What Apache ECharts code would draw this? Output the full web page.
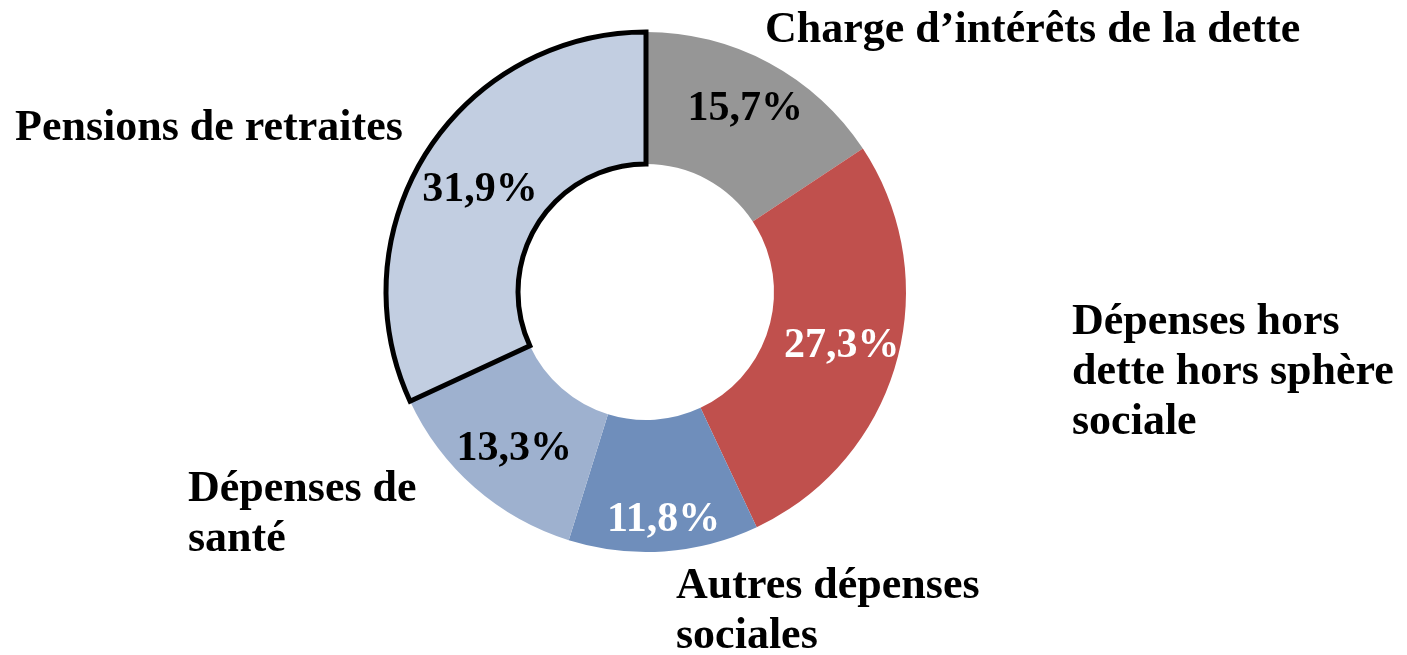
<!DOCTYPE html>
<html>
<head>
<meta charset="utf-8">
<script src="https://cdn.jsdelivr.net/npm/echarts@6/dist/echarts.min.js"></script>
<style>
html,body{margin:0;padding:0;background:#fff;}
#chart{width:1407px;height:655px;}
</style>
</head>
<body>
<div id="chart"></div>
<script>
// Data
const categories = [
  "Charge d\u2019intérêts de la dette",
  "Dépenses hors\ndette hors sphère\nsociale",
  "Autres dépenses\nsociales",
  "Dépenses de\nsanté",
  "Pensions de retraites"
];
const values = [15.7, 27.3, 11.8, 13.3, 31.9];
const valueLabels = ["15,7%", "27,3%", "11,8%", "13,3%", "31,9%"];

// Styles
const colors = ["#969696", "#C0504D", "#6F8EBB", "#9EB1CF", "#C2CEE1"];
const pctColors = ["#000", "#fff", "#fff", "#000", "#000"];
const pctOffsets = [[6, -9], [6, 1], [4, 32], [-2, 9], [0, 4]];
const namePos = [
  {x: 765, y: 31, align: 'left'},
  {x: 1072, y: 373, align: 'left'},
  {x: 676, y: 612, align: 'left'},
  {x: 188, y: 515, align: 'left'},
  {x: 15, y: 129, align: 'left'}
];
const FONT = '"Liberation Serif", "DejaVu Serif", serif';
const CENTER = [646, 292];
const RADIUS = [128, 260];

const chart = echarts.init(document.getElementById('chart'), null, {renderer: 'canvas'});

const mainData = categories.map((c, i) => ({
  name: c,
  value: values[i],
  itemStyle: i === 4
    ? {color: colors[i], borderColor: '#000', borderWidth: 5, borderJoin: 'miter'}
    : {color: colors[i], borderWidth: 0},
  label: {color: pctColors[i]}
}));

const nameData = categories.map((c, i) => ({
  name: c,
  value: values[i],
  itemStyle: {color: 'rgba(0,0,0,0)'}
}));

chart.setOption({
  animation: false,
  backgroundColor: '#fff',
  series: [
    {
      type: 'pie',
      center: CENTER,
      radius: RADIUS,
      startAngle: 90,
      clockwise: true,
      avoidLabelOverlap: false,
      silent: true,
      emphasis: {disabled: true},
      data: mainData,
      label: {
        show: true,
        position: 'inside',
        fontFamily: FONT,
        fontWeight: 'bold',
        fontSize: 42,
        formatter: p => valueLabels[p.dataIndex]
      },
      labelLine: {show: false},
      labelLayout: p => ({dx: pctOffsets[p.dataIndex][0], dy: pctOffsets[p.dataIndex][1]})
    },
    {
      type: 'pie',
      center: CENTER,
      radius: RADIUS,
      startAngle: 90,
      clockwise: true,
      avoidLabelOverlap: false,
      silent: true,
      emphasis: {disabled: true},
      z: 3,
      data: nameData,
      label: {
        show: true,
        position: 'outside',
        fontFamily: FONT,
        fontWeight: 'bold',
        fontSize: 44,
        lineHeight: 50,
        color: '#000',
        align: 'left',
        formatter: p => p.name
      },
      labelLine: {show: false},
      labelLayout: p => ({
        x: namePos[p.dataIndex].x,
        y: namePos[p.dataIndex].y,
        align: namePos[p.dataIndex].align,
        verticalAlign: 'middle'
      })
    }
  ]
});
</script>
</body>
</html>
